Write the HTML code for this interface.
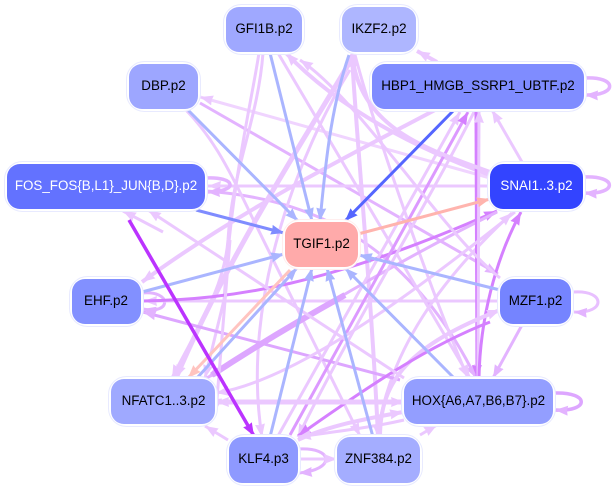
<!DOCTYPE html>
<html><head><meta charset="utf-8"><style>
html,body{margin:0;padding:0;background:#fff;width:614px;height:489px;overflow:hidden}
svg{display:block}
text{font-family:"Liberation Sans",sans-serif;font-size:13.4px;text-anchor:middle}
.e{fill:none;stroke-linecap:butt}
.L{stroke:#ebc8ff;stroke-width:3;marker-end:url(#mL)}
.T{stroke:#ebc8ff;stroke-width:5;marker-end:url(#mL)}
.M{stroke:#e3b3ff;stroke-width:3;marker-end:url(#mM)}
.S{stroke:#d580ff;stroke-width:3;marker-end:url(#mS)}
.B{stroke:#aab5ff;stroke-width:3;marker-end:url(#mB)}
.N rect.o{fill:#fff;stroke:#e8eaff;stroke-width:1}
</style></head><body>
<svg width="614" height="489" viewBox="0 0 614 489" xmlns="http://www.w3.org/2000/svg">
<defs>
<marker id="mL" markerUnits="userSpaceOnUse" markerWidth="14" markerHeight="12" refX="13" refY="6" orient="auto"><path d="M0,1 L13,6 L0,11 L1,6Z" fill="#ebc8ff"/></marker>
<marker id="mM" markerUnits="userSpaceOnUse" markerWidth="14" markerHeight="12" refX="13" refY="6" orient="auto"><path d="M0,1 L13,6 L0,11 L1,6Z" fill="#e3b3ff"/></marker>
<marker id="mS" markerUnits="userSpaceOnUse" markerWidth="14" markerHeight="12" refX="13" refY="6" orient="auto"><path d="M0,1 L13,6 L0,11 L1,6Z" fill="#d580ff"/></marker>
<marker id="mP" markerUnits="userSpaceOnUse" markerWidth="14" markerHeight="12" refX="13" refY="6" orient="auto"><path d="M0,1 L13,6 L0,11 L1,6Z" fill="#bb33ff"/></marker>
<marker id="mB" markerUnits="userSpaceOnUse" markerWidth="14" markerHeight="12" refX="13" refY="6" orient="auto"><path d="M0,1 L13,6 L0,11 L1,6Z" fill="#aab5ff"/></marker>
<marker id="mD" markerUnits="userSpaceOnUse" markerWidth="14" markerHeight="12" refX="13" refY="6" orient="auto"><path d="M0,1 L13,6 L0,11 L1,6Z" fill="#7f8cff"/></marker>
<marker id="mE" markerUnits="userSpaceOnUse" markerWidth="14" markerHeight="12" refX="13" refY="6" orient="auto"><path d="M0,1 L13,6 L0,11 L1,6Z" fill="#5566ff"/></marker>
<marker id="mK" markerUnits="userSpaceOnUse" markerWidth="14" markerHeight="12" refX="13" refY="6" orient="auto"><path d="M0,1 L13,6 L0,11 L1,6Z" fill="#ffc4c0"/></marker>
<marker id="mR" markerUnits="userSpaceOnUse" markerWidth="14" markerHeight="12" refX="13" refY="6" orient="auto"><path d="M0,1 L13,6 L0,11 L1,6Z" fill="#ffb4ae"/></marker>
</defs>
<g class="e">
<path class="L" d="M490,178 L200,97" style="stroke:#f0d4ff"/>
<path class="M" d="M200,103 L498,274"/>
<path class="L" d="M490,186 L208,186"/>
<path class="M" d="M205,178 C236,176 240,192 207,192" style="stroke-width:3.500"/>
<path class="M" d="M207,191 C290,198 400,225 476,378"/>
<path class="L" d="M490,175 C420,150 340,110 286,53" style="stroke-width:4"/>
<path class="L" d="M278,53 L470,378"/>
<path class="L" d="M259,53 C250,110 232,180 224,300 L205,378"/>
<path class="L" d="M263,53 C258,120 232,170 228,240 C224,290 196,330 172,378"/>
<path class="T" d="M355,53 C320,115 230,250 176,378"/>
<path class="L" d="M350,70 C300,150 240,300 262,437"/>
<path class="T" d="M435,110 C350,155 240,210 142,282" style="stroke-width:4"/>
<path class="L" d="M186,110 C210,135 225,160 252,217 L360,436"/>
<path class="L" d="M352,55 C355,120 372,300 378,437" style="stroke-width:4"/>
<path class="L" d="M355,55 C375,130 430,290 468,378"/>
<path class="L" d="M378,432 C390,350 440,280 512,213"/>
<path class="L" d="M437,62 L417,51" style="stroke-width:4"/>
<path class="M" d="M584,78 C618,76 618,96 585,95" style="stroke-width:3.500"/>
<path class="M" d="M583,177 C618,175 618,195 584,193" style="stroke-width:3.500"/>
<path class="M" d="M574,292 C606,290 606,314 574,312" style="stroke:#e8c0ff"/>
<path class="M" d="M555,393 C590,392 590,412 555,410" style="stroke:#dda6ff;stroke-width:3.500"/>
<path class="M" d="M298,449 C335,447 335,470 299,473"/>
<path class="M" d="M142,293 C172,290 172,315 143,309"/>
<path class="L" d="M522,162 L492,110"/>
<path class="L" d="M500,301 L144,301"/>
<path class="M" d="M400,380 L143,312" style="stroke:#dda6ff"/>
<path class="S" d="M142,301 C230,300 330,285 497,211"/>
<path class="M" d="M497,212 C420,250 330,300 207,378" style="stroke-width:3"/>
<path d="M345,295 C300,320 250,350 212,375" style="stroke:#dda6ff;stroke-width:6"/>
<path class="L" d="M278,436 L460,112"/>
<path class="S" d="M290,435 L468,112" style="stroke:#dc99ff"/>
<path class="L" d="M474,112 C430,200 350,330 298,437"/>
<path class="S" d="M476,112 L477,378"/>
<path class="L" d="M478,378 L479,110"/>
<path class="S" d="M479,378 C480,320 495,260 521,212"/>
<path class="M" d="M522,325 L493,378"/>
<path class="L" d="M380,437 C380,380 410,345 500,310" style="stroke-width:4"/>
<path class="S" d="M490,322 C430,345 370,385 298,436"/>
<path class="L" d="M404,402 L216,402" style="stroke-width:5"/>
<path class="L" d="M216,402 L404,402" style="stroke-width:1"/>
<path class="L" d="M228,440 L205,426"/>
<path class="L" d="M420,435 L437,425"/>
<path class="L" d="M298,440 C330,425 370,418 403,412" style="stroke-width:4"/>
<path class="L" d="M404,420 C370,428 330,432 298,437"/>
<path class="L" d="M300,459 L337,459"/>
<path class="L" d="M404,378 L148,210"/>
<path class="L" d="M515,212 C430,280 300,380 216,393"/>
<path class="L" d="M500,278 C440,230 360,100 300,60"/>
<path class="L" d="M230,240 L216,411"/>
<path class="L" d="M163,232 L123,211"/>
<path class="L" d="M490,172 C430,150 360,130 352,54" style="stroke-width:4"/>
<path class="B" d="M270,53 L312,221"/>
<path class="B" d="M349,55 C330,110 325,170 320,221"/>
<path class="B" d="M188,110 L298,221"/>
<path style="stroke:#7f8cff;stroke-width:3;marker-end:url(#mD)" d="M196,210 L284,233"/>
<path style="stroke:#5566ff;stroke-width:3;marker-end:url(#mE)" d="M454,110 L345,221"/>
<path style="stroke:#ffb4ae;stroke-width:3;marker-end:url(#mR)" d="M358,234 L490,199"/>
<path class="B" d="M142,292 L284,254"/>
<path class="B" d="M500,290 L359,255"/>
<path class="B" d="M454,378 L345,268"/>
<path class="B" d="M373,437 L327,268"/>
<path class="B" d="M270,437 L312,268"/>
<path class="B" d="M197,378 L297,268"/>
<path style="stroke:#ffc4c0;stroke-width:3;marker-end:url(#mK)" d="M290,270 L188,378"/>
<path style="stroke:#bb33ff;stroke-width:3.500;marker-end:url(#mP)" d="M129,220 L254,436"/>
</g>
<g class="N">
<rect class="o" x="223.500" y="4.500" width="81" height="50" rx="18"/><rect x="226" y="7" width="76" height="45" rx="13" fill="#9fa8ff"/>
<rect class="o" x="339.500" y="4.500" width="79" height="50" rx="18"/><rect x="342" y="7" width="74" height="45" rx="13" fill="#aeb6ff"/>
<rect class="o" x="126.500" y="61.500" width="74" height="50" rx="18"/><rect x="129" y="64" width="69" height="45" rx="13" fill="#9da6ff"/>
<rect class="o" x="369.500" y="61.500" width="217" height="50" rx="18"/><rect x="372" y="64" width="212" height="45" rx="13" fill="#7f8cff"/>
<rect class="o" x="4.500" y="161.500" width="203" height="50" rx="18"/><rect x="7" y="164" width="198" height="45" rx="13" fill="#6372ff"/>
<rect class="o" x="487.500" y="161.500" width="98" height="50" rx="18"/><rect x="490" y="164" width="93" height="45" rx="13" fill="#3344ff"/>
<rect class="o" x="282.500" y="219.500" width="78" height="50" rx="18" style="stroke:#ffeeee"/><rect x="285" y="222" width="73" height="45" rx="13" fill="#ffaaaa"/>
<rect class="o" x="69.500" y="276.500" width="74" height="50" rx="18"/><rect x="72" y="279" width="69" height="45" rx="13" fill="#8290ff"/>
<rect class="o" x="497.500" y="276.500" width="76" height="50" rx="18"/><rect x="500" y="279" width="71" height="45" rx="13" fill="#7584ff"/>
<rect class="o" x="108.500" y="376.500" width="109" height="50" rx="18"/><rect x="111" y="379" width="104" height="45" rx="13" fill="#9fa9ff"/>
<rect class="o" x="401.500" y="376.500" width="154" height="50" rx="18"/><rect x="404" y="379" width="149" height="45" rx="13" fill="#939eff"/>
<rect class="o" x="226.500" y="434.500" width="74" height="51" rx="18"/><rect x="229" y="437" width="69" height="46" rx="13" fill="#8e99ff"/>
<rect class="o" x="334.500" y="434.500" width="88" height="51" rx="18"/><rect x="337" y="437" width="83" height="46" rx="13" fill="#a4adff"/>
<text x="264" y="33">GFI1B.p2</text>
<text x="379" y="33">IKZF2.p2</text>
<text x="163.500" y="90">DBP.p2</text>
<text x="478" y="90">HBP1_HMGB_SSRP1_UBTF.p2</text>
<text x="106" y="190" fill="#fff">FOS_FOS{B,L1}_JUN{B,D}.p2</text>
<text x="536.500" y="190" fill="#fff">SNAI1..3.p2</text>
<text x="321.500" y="248">TGIF1.p2</text>
<text x="106" y="305">EHF.p2</text>
<text x="535.500" y="305">MZF1.p2</text>
<text x="163.500" y="405">NFATC1..3.p2</text>
<text x="478.500" y="405">HOX{A6,A7,B6,B7}.p2</text>
<text x="263.500" y="463">KLF4.p3</text>
<text x="378.500" y="463">ZNF384.p2</text>
</g>
</svg>
</body></html>
